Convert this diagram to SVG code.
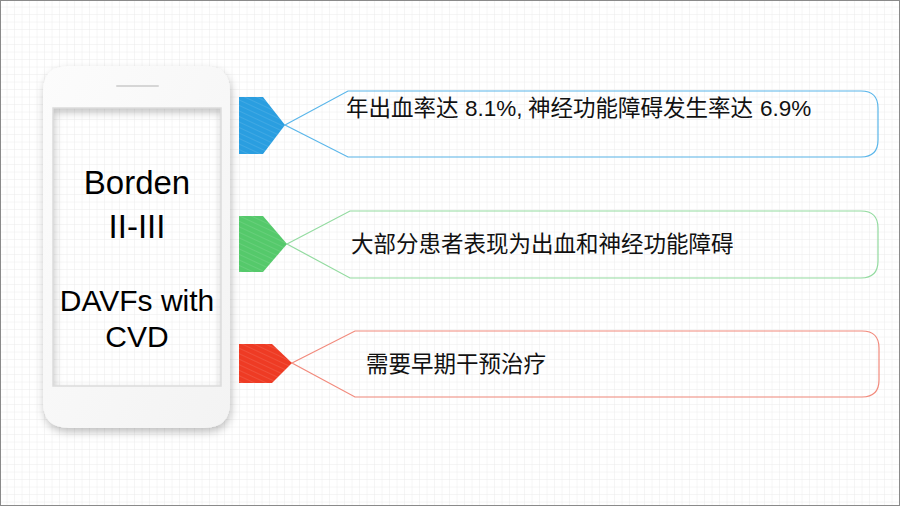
<svg xmlns="http://www.w3.org/2000/svg" width="900" height="506" viewBox="0 0 900 506">
<defs>
<pattern id="grid" width="7.5" height="7.5" patternUnits="userSpaceOnUse">
<path d="M7.5 0 V7.5 M0 7.5 H7.5" stroke="#ececec" stroke-width="1" fill="none"/>
</pattern>
<pattern id="hatch" width="5" height="5" patternUnits="userSpaceOnUse" patternTransform="rotate(-65)">
<line x1="0" y1="0" x2="0" y2="5" stroke="#ffffff" stroke-opacity="0.25" stroke-width="0.8"/>
</pattern>
<filter id="shadow" x="-20%" y="-20%" width="140%" height="140%">
<feDropShadow dx="1" dy="4" stdDeviation="4" flood-color="#000" flood-opacity="0.25"/>
</filter>
<linearGradient id="body" x1="0" y1="0" x2="1" y2="1">
<stop offset="0" stop-color="#fcfcfc"/>
<stop offset="1" stop-color="#f3f3f3"/>
</linearGradient>
<style>
.cjk{font-family:"Liberation Sans","Noto Sans CJK SC",sans-serif;font-size:22.5px;fill:#111}
.ph{font-family:"Liberation Sans",Arial,sans-serif;font-size:30px;fill:#000;text-anchor:middle}
.big{font-size:33px}
.call{fill:none;stroke-width:1.2}
</style>
</defs>
<rect x="0" y="0" width="900" height="506" fill="#ffffff"/>
<rect x="0" y="0" width="900" height="506" fill="url(#grid)"/>
<rect x="0.5" y="0.5" width="899" height="505" fill="none" stroke="#8a8a8a" stroke-width="1"/>

<g id="phone">
<path filter="url(#shadow)" fill="url(#body)" fill-rule="evenodd" d="M69,66 H204 Q230,66 230,92 V402 Q230,428 204,428 H69 Q43,428 43,402 V92 Q43,66 69,66 Z M53,108 V386 H221 V108 Z"/>
<rect x="53" y="108" width="168" height="278" fill="none" stroke="#dcdcdc" stroke-width="1.5"/>
<line x1="117" y1="86" x2="158" y2="86" stroke="#d6d6d6" stroke-width="2" stroke-linecap="round"/>
<text class="ph big" x="137" y="194">Borden</text>
<text class="ph big" x="137" y="238">II-III</text>
<text class="ph" x="137" y="311">DAVFs with</text>
<text class="ph" x="137" y="347">CVD</text>
</g>

<g id="connectors">
<path class="call" stroke="#5ab6ea" d="M285,125 L348,91 H861 Q878,91 878,108 V140 Q878,157 861,157 H348 Z"/>
<path class="call" stroke="#93dba0" d="M287,244 L350,211 H861 Q878,211 878,228 V261 Q878,278 861,278 H350 Z"/>
<path class="call" stroke="#f28a7c" d="M292,363 L355,331 H862 Q879,331 879,348 V380 Q879,397 862,397 H355 Z"/>
</g>

<g id="item1">
<polygon points="239,97 263,97 285,125 263,154 239,154" fill="#2a9ee0"/>
<polygon points="239,97 263,97 285,125 263,154 239,154" fill="url(#hatch)"/>
<text class="cjk" y="116"><tspan x="346">年出血率达</tspan> <tspan x="465">8.1%,</tspan> <tspan x="528">神经功能障碍发生率达</tspan> <tspan x="760">6.9%</tspan></text>
</g>

<g id="item2">
<polygon points="239,216 263,216 287,244 263,272 239,272" fill="#55c96b"/>
<polygon points="239,216 263,216 287,244 263,272 239,272" fill="url(#hatch)"/>
<text class="cjk" x="351" y="252">大部分患者表现为出血和神经功能障碍</text>
</g>

<g id="item3">
<polygon points="239,344 272,344 292,363 272,383 239,383" fill="#ee3b24"/>
<polygon points="239,344 272,344 292,363 272,383 239,383" fill="url(#hatch)"/>
<text class="cjk" x="366" y="372">需要早期干预治疗</text>
</g>
</svg>
